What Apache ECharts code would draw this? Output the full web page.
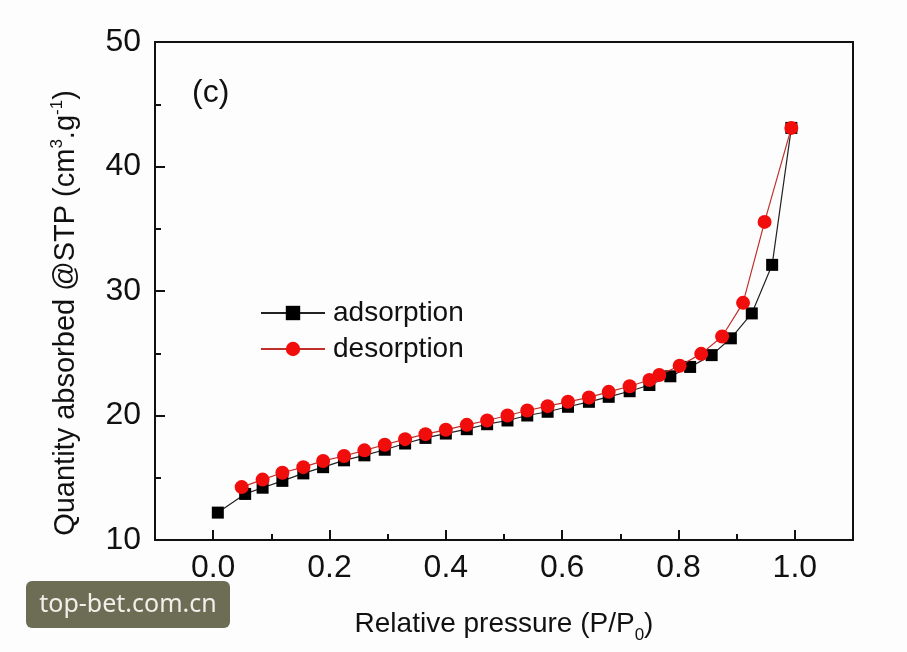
<!DOCTYPE html>
<html>
<head>
<meta charset="utf-8">
<script src="https://cdn.jsdelivr.net/npm/echarts@6/dist/echarts.min.js"></script>
<style>
html,body{margin:0;padding:0;background:#fefdfd;}
#chart{width:907px;height:652px;}
</style>
</head>
<body>
<div id="chart"></div>
<script>
// Relative pressure (P/P0) and quantity adsorbed
var adsX = [0.008, 0.055, 0.085, 0.119, 0.155, 0.189, 0.225, 0.26, 0.295, 0.33, 0.365, 0.40, 0.436, 0.471, 0.506, 0.54, 0.575, 0.61, 0.646, 0.68, 0.716, 0.75, 0.786, 0.82, 0.857, 0.89, 0.926, 0.961, 0.994];
var adsY = [12.2, 13.7, 14.2, 14.75, 15.35, 15.85, 16.4, 16.8, 17.25, 17.75, 18.2, 18.55, 18.9, 19.3, 19.6, 20.0, 20.3, 20.7, 21.1, 21.5, 21.95, 22.45, 23.15, 23.9, 24.85, 26.2, 28.2, 32.1, 43.1];
var desX = [0.049, 0.085, 0.119, 0.155, 0.189, 0.225, 0.26, 0.295, 0.33, 0.365, 0.40, 0.436, 0.471, 0.506, 0.54, 0.575, 0.61, 0.646, 0.68, 0.716, 0.75, 0.767, 0.802, 0.839, 0.875, 0.911, 0.948, 0.994];
var desY = [14.25, 14.85, 15.4, 15.85, 16.35, 16.75, 17.2, 17.65, 18.1, 18.5, 18.85, 19.25, 19.6, 20.0, 20.4, 20.75, 21.1, 21.45, 21.9, 22.35, 22.85, 23.25, 24.0, 24.95, 26.35, 29.05, 35.55, 43.1];
var xMajorTicks = [0, 0.2, 0.4, 0.6, 0.8, 1.0];
var xMinorTicks = [0.1, 0.3, 0.5, 0.7, 0.9];
var seriesNames = ['adsorption', 'desorption'];

function pairs(xs, ys) { return xs.map(function (x, i) { return [x, ys[i]]; }); }

var FONT = 'Liberation Sans, Arial, sans-serif';
var chart = echarts.init(document.getElementById('chart'), null, {renderer: 'canvas'});
chart.setOption({
  backgroundColor: '#fefdfd',
  animation: false,
  grid: {left: 155, right: 54, top: 42, bottom: 112, show: true, borderColor: '#111', borderWidth: 2, backgroundColor: 'transparent'},
  xAxis: [{
    type: 'value', min: -0.1, max: 1.1,
    axisLine: {show: true, onZero: false, lineStyle: {color: '#111', width: 2}},
    axisTick: {show: true, inside: true, length: 10, customValues: xMajorTicks, lineStyle: {color: '#111', width: 2}},
    axisLabel: {show: true, customValues: xMajorTicks, margin: 12, fontSize: 32, fontFamily: FONT, color: '#111',
      formatter: function (v) { return Number(v).toFixed(1); }},
    splitLine: {show: false},
    name: '{n|Relative pressure (P/P}{s|0}{n|)}',
    nameLocation: 'middle', nameGap: 66,
    nameTextStyle: {rich: {
      n: {fontSize: 28, fontFamily: FONT, color: '#111', lineHeight: 36},
      s: {fontSize: 17, fontFamily: FONT, color: '#111', verticalAlign: 'bottom', lineHeight: 36, padding: [0, 0, -2, 0]}
    }}
  }, {
    type: 'value', min: -0.1, max: 1.1, gridIndex: 0, position: 'bottom',
    axisLine: {show: false, onZero: false},
    axisTick: {show: true, inside: true, length: 6, customValues: xMinorTicks, lineStyle: {color: '#111', width: 2}},
    axisLabel: {show: false},
    splitLine: {show: false}
  }],
  yAxis: {
    type: 'value', min: 10, max: 50, interval: 10,
    axisLine: {show: true, onZero: false, lineStyle: {color: '#111', width: 2}},
    axisTick: {show: true, inside: true, length: 10, lineStyle: {color: '#111', width: 2}},
    minorTick: {show: true, splitNumber: 2, length: 6, lineStyle: {color: '#111', width: 2}},
    axisLabel: {margin: 14, fontSize: 32, fontFamily: FONT, color: '#111'},
    splitLine: {show: false}
  },
  legend: {
    orient: 'vertical', left: 255, top: 294,
    itemWidth: 64, itemHeight: 18, itemGap: 8,
    textStyle: {fontSize: 28, fontFamily: FONT, color: '#111', padding: [0, 0, 0, 3]},
    data: seriesNames
  },
  series: [{
    name: seriesNames[0], type: 'line', xAxisIndex: 0,
    data: pairs(adsX, adsY),
    symbol: 'rect', symbolSize: 12,
    itemStyle: {color: '#000'},
    lineStyle: {color: '#222', width: 1.2},
    z: 2
  }, {
    name: seriesNames[1], type: 'line', xAxisIndex: 0,
    data: pairs(desX, desY),
    symbol: 'circle', symbolSize: 14,
    itemStyle: {color: '#f20d0d'},
    lineStyle: {color: '#c0302a', width: 1.2},
    z: 3
  }],
  graphic: [{
    type: 'text', left: 192, top: 77,
    style: {text: '(c)', fontSize: 32, fontFamily: FONT, fill: '#111'}
  }, {
    type: 'text', x: 66, y: 313, rotation: Math.PI / 2,
    style: {
      text: '{n|Quantity absorbed @STP (cm}{p|3}{n|.g}{p|-1}{n|)}',
      align: 'center', verticalAlign: 'middle',
      rich: {
        n: {fontSize: 29, fontFamily: FONT, fill: '#111', lineHeight: 34},
        p: {fontSize: 17, fontFamily: FONT, fill: '#111', verticalAlign: 'top', lineHeight: 34}
      }
    }
  }, {
    type: 'rect', shape: {x: 26, y: 581, width: 204, height: 47, r: 6},
    style: {fill: '#6d6d56'}
  }, {
    type: 'text', x: 128, y: 605,
    style: {text: 'top-bet.com.cn', fontSize: 25, fontFamily: 'Noto Sans, sans-serif', fill: '#f0f0ea', align: 'center', verticalAlign: 'middle'}
  }]
});
</script>
</body>
</html>
